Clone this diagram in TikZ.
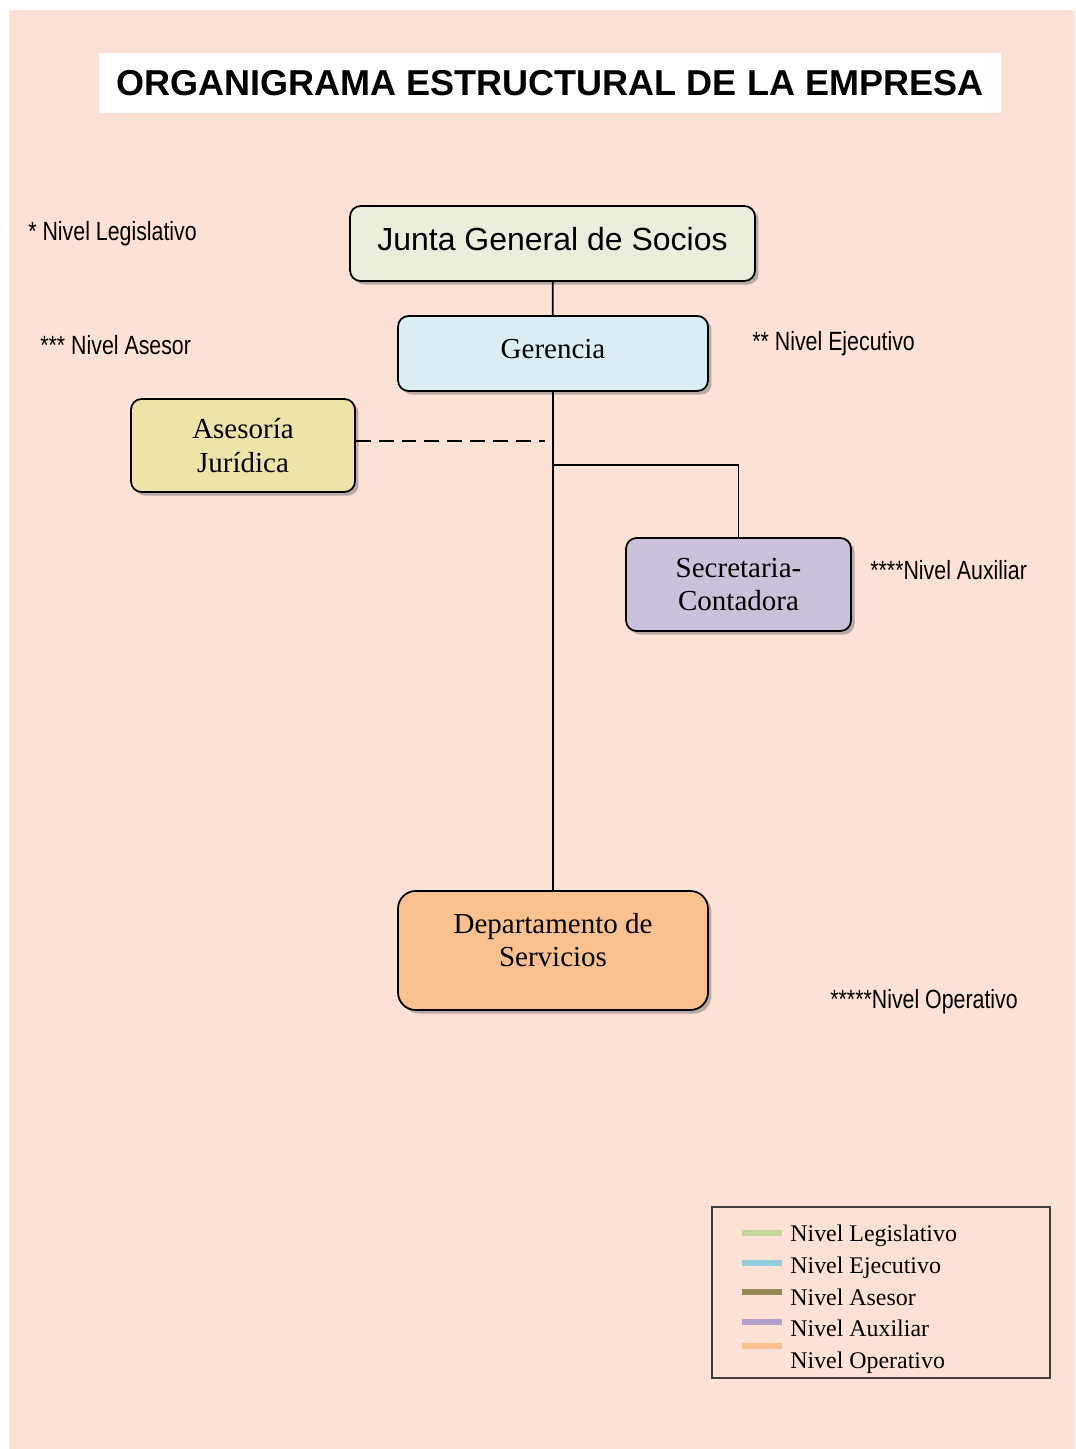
\documentclass[tikz,border=0pt]{standalone}
\usepackage{fontspec}
\setmainfont{Liberation Serif}
\setsansfont{Liberation Sans}
\newfontfamily\narrowsans[FakeStretch=0.81]{Liberation Sans}
\usetikzlibrary{shadows}
\definecolor{fondo}{HTML}{FCE2D6}
\definecolor{cjunta}{HTML}{EBEEDD}
\definecolor{cgerencia}{HTML}{DAEDF3}
\definecolor{casesor}{HTML}{EEE4AA}
\definecolor{csecre}{HTML}{CCC1DA}
\definecolor{cdepto}{HTML}{F9C090}
\definecolor{llegis}{HTML}{C3D69B}
\definecolor{lejec}{HTML}{93CDDD}
\definecolor{lasesor}{HTML}{948A54}
\definecolor{laux}{HTML}{B3A2C7}
\definecolor{loper}{HTML}{FAC090}
\begin{document}
\begin{tikzpicture}[x=0.02cm,y=-0.02cm,
  caja/.style={draw=black,line width=1pt,rounded corners=6pt,align=center,
    drop shadow={shadow xshift=2pt,shadow yshift=-2pt,fill=black!55}},
  nivel/.style={font=\narrowsans\fontsize{15}{18}\selectfont,anchor=west,inner sep=0pt},
  leyenda/.style={font=\fontsize{13.6}{16}\selectfont,anchor=base west,inner sep=0pt},
  linea/.style={line width=1pt}]
\fill[white] (0,0) rectangle (1075,1449);
\fill[fondo] (9,10) rectangle (1075,1449);
\node[fill=white,minimum width=18.04cm,minimum height=1.2cm,
  font=\sffamily\bfseries\fontsize{20.5}{23}\selectfont] (titulo) at (550,83)
  {ORGANIGRAMA ESTRUCTURAL DE LA EMPRESA};
% niveles
\node[caja,fill=cjunta,minimum width=8.1cm,minimum height=1.5cm,text depth=0.2cm,
  font=\sffamily\fontsize{18.2}{22}\selectfont] (junta) at (552.5,243.5) {Junta General de Socios};
\node[caja,fill=cgerencia,minimum width=6.2cm,minimum height=1.5cm,text depth=0.2cm,
  font=\fontsize{16.5}{19}\selectfont] (gerencia) at (553,353.5) {Gerencia};
\node[caja,fill=casesor,minimum width=4.48cm,minimum height=1.86cm,
  font=\fontsize{16.5}{19}\selectfont] (asesoria) at (243,445.5) {Asesoría\\Jurídica};
\node[caja,fill=csecre,minimum width=4.5cm,minimum height=1.86cm,
  font=\fontsize{16.5}{19}\selectfont] (secre) at (738.5,584.5) {Secretaria-\\Contadora};
\node[caja,fill=cdepto,minimum width=6.2cm,minimum height=2.38cm,rounded corners=10pt,text depth=0.43cm,
  font=\fontsize{16.5}{19}\selectfont] (depto) at (553,950.5) {Departamento de\\Servicios};
% lineas
\coordinate (rama) at (553,465);
\coordinate (guion) at (545,441);
\draw[linea] (junta) -- (gerencia);
\draw[linea] (gerencia) -- (depto);
\draw[linea] (rama) -| (secre);
\draw[linea,dash pattern=on 8.5pt off 4.5pt] (asesoria.east |- guion) -- (guion);
% etiquetas
\node[nivel] (nlegis) at (28,234) {* Nivel Legislativo};
\node[nivel] (nasesor) at (40,345) {*** Nivel Asesor};
\node[nivel] (nejec) at (752,344) {** Nivel Ejecutivo};
\node[nivel] (naux) at (870,570) {****Nivel Auxiliar};
\node[nivel] (noper) at (830,1002) {*****Nivel Operativo};
% leyenda
\node[draw=black!75,line width=0.8pt,minimum width=6.76cm,minimum height=3.42cm] (ley) at (881,1292.5) {};
\foreach \c/\t/\yl/\yt [count=\i] in {llegis/Legislativo/1233/1241,lejec/Ejecutivo/1263/1273,
    lasesor/Asesor/1292/1305,laux/Auxiliar/1322/1336,loper/Operativo/1346/1368}{
  \draw[line width=3.4pt,\c] (742,\yl) -- (782,\yl);
  \node[leyenda] (ley\i) at (790,\yt) {Nivel \t};
}
\end{tikzpicture}
\end{document}
